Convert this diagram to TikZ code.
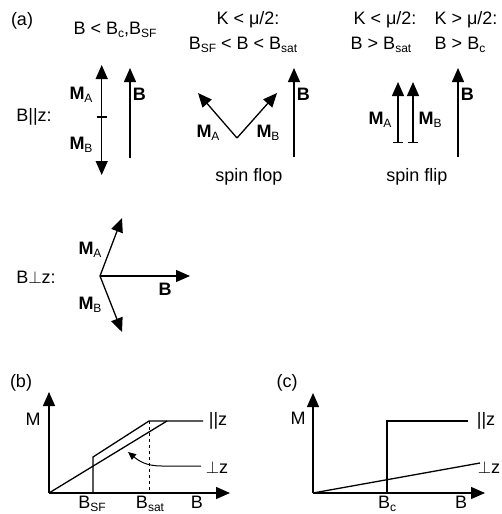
\documentclass[tikz,border=0pt]{standalone}
\usepackage{fontspec}
\setmainfont{Liberation Sans}
\usetikzlibrary{arrows.meta}
\newcommand{\lo}[1]{\raisebox{-0.35ex}{\fontsize{12}{14}\selectfont #1}}
\newcommand{\mvec}[1]{\textbf{M}\lo{#1}}

\begin{document}
\begin{tikzpicture}[x=1pt,y=-1pt,line width=1.3pt,>={Triangle[length=14pt,width=12pt]},
  font=\fontsize{18}{21}\selectfont,
  bar/.style={{Bar[width=10pt]}->},
  axlbl/.style={anchor=base,inner sep=0pt}]
  \useasboundingbox (0,0) rectangle (502,514);
  % (a) field along z
  \node (a) at (22,21) {(a)};
  \node (lowB) at (115,30) {B < B\lo{c},B\lo{SF}};
  \node (par) at (34,117) {B||z:};
  \draw[<->] (101.7,65) -- (101.7,175);
  \draw (96.7,117) -- (106.7,117);
  \node at (81,95) {\mvec{A}};
  \node at (81,145) {\mvec{B}};
  \draw[->] (130,158) -- (130,68) node[pos=0.71,right=-1pt] {\textbf{B}};
  % spin flop
  \node at (248,20) {K < μ/2:};
  \node at (243,45) {B\lo{SF} < B < B\lo{sat}};
  \coordinate (V) at (237,138);
  \draw[->] (V) -- (198,93);
  \draw[->] (V) -- (277,93);
  \node at (208,133) {\mvec{A}};
  \node at (268,133) {\mvec{B}};
  \draw[->] (294,157) -- (294,68) node[pos=0.71,right=-1pt] {\textbf{B}};
  \node (flop) at (249,177) {spin flop};
  % spin flip
  \node at (385,20) {K < μ/2:};
  \node at (466,20) {K > μ/2:};
  \node at (381,45) {B > B\lo{sat}};
  \node at (460,45) {B > B\lo{c}};
  \draw[bar] (398,143) -- (398,82);
  \draw[bar] (413,143) -- (413,82);
  \node at (380,120) {\mvec{A}};
  \node at (430,120) {\mvec{B}};
  \draw[->] (458,157) -- (458,68) node[pos=0.71,right=-1pt] {\textbf{B}};
  \node (flip) at (417,177) {spin flip};
  % field perpendicular to z
  \node (perp) at (36,277) {B$\perp$z:};
  \coordinate (O) at (100,276);
  \draw[->] (O) -- (122,218);
  \draw[->] (O) -- (122,332);
  \draw[->] (O) -- (190,276);
  \node at (90,250) {\mvec{A}};
  \node at (90,305) {\mvec{B}};
  \node at (165,289) {\textbf{B}};
  % (b)
  \node at (21,383) {(b)};
  \coordinate (Ob) at (49,493);
  \draw[->] (Ob) -- (49,392);
  \draw[->] (Ob) -- (230,493);
  \node at (33,419) {M};
  \draw (Ob) -- (93,493) -- (93,457) -- (149,421) -- (203,421);
  \draw (Ob) -- (167,421);
  \draw[dashed,line width=1pt] (149,421) -- (149,493);
  \node at (218,421) {||z};
  \node at (217,467) {$\perp$z};
  \draw[line width=1pt,-{Triangle[length=8pt,width=7pt]}] (201,466) -- (162,466)
    .. controls (146,466) and (139,461) .. (128,452);
  \node[axlbl] at (92,508) {B\lo{SF}};
  \node[axlbl] at (150,508) {B\lo{sat}};
  \node[axlbl] at (197,508) {B};
  % (c)
  \node at (287,383) {(c)};
  \coordinate (Oc) at (313,493);
  \draw[->] (Oc) -- (313,393);
  \draw[->] (Oc) -- (485,493);
  \node at (298,418) {M};
  \draw (Oc) -- (387,493) -- (387,421) -- (468,421);
  \draw (Oc) -- (480,463);
  \node at (486,421) {||z};
  \node at (489,467) {$\perp$z};
  \node[axlbl] at (387,508) {B\lo{c}};
  \node[axlbl] at (461,508) {B};
\end{tikzpicture}
\end{document}
